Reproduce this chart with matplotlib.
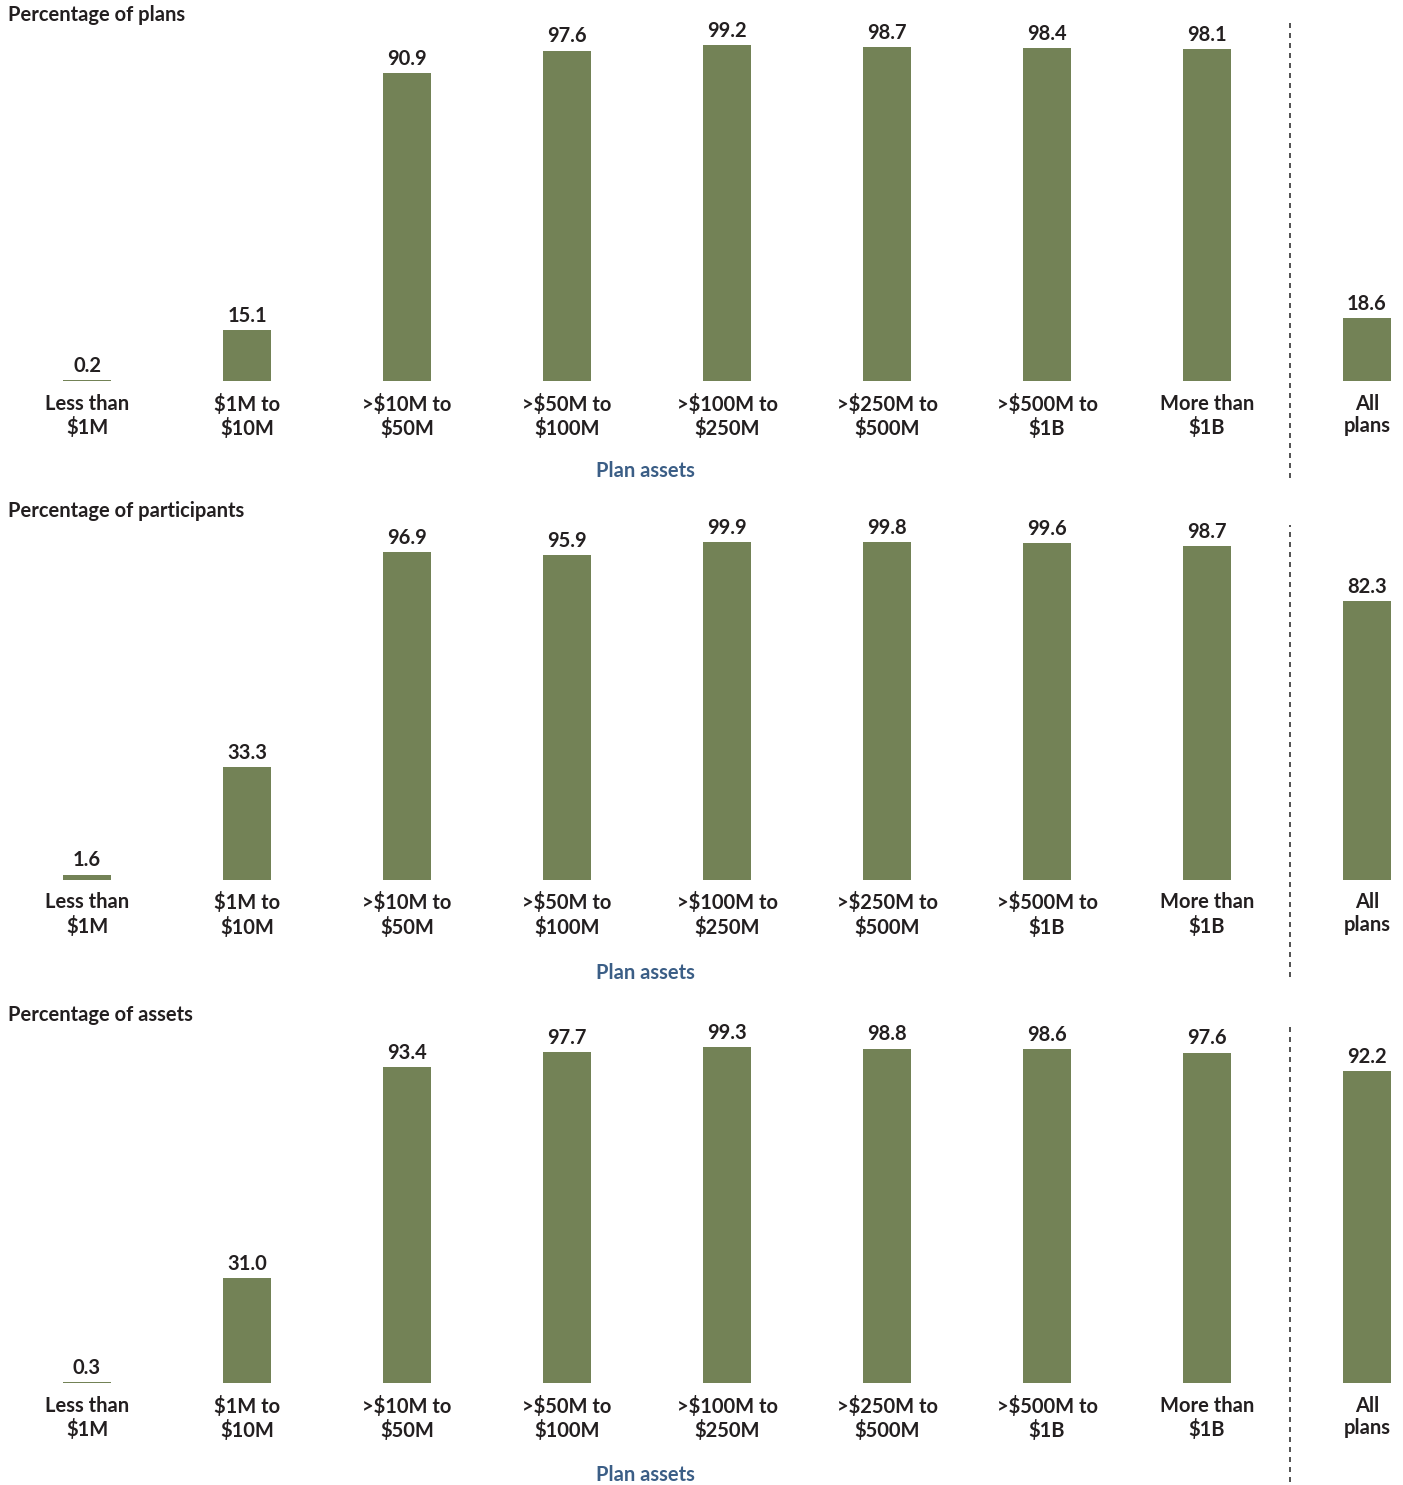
import matplotlib
matplotlib.use("Agg")
import matplotlib.pyplot as plt

plt.rcParams['font.family'] = ['Lato', 'DejaVu Sans']

categories = ["Less than\n$1M", "$1M to\n$10M", ">$10M to\n$50M", ">$50M to\n$100M",
              ">$100M to\n$250M", ">$250M to\n$500M", ">$500M to\n$1B", "More than\n$1B",
              "All\nplans"]
titles = ["Percentage of plans", "Percentage of participants", "Percentage of assets"]
pct_plans = [0.2, 15.1, 90.9, 97.6, 99.2, 98.7, 98.4, 98.1, 18.6]
pct_participants = [1.6, 33.3, 96.9, 95.9, 99.9, 99.8, 99.6, 98.7, 82.3]
pct_assets = [0.3, 31.0, 93.4, 97.7, 99.3, 98.8, 98.6, 97.6, 92.2]

BAR = '#738256'
TXT = '#231f20'
BLUE = '#3b5e86'

W, H = 1403, 1485
PX_PER_UNIT = 3.385
# (top of axes, baseline, bottom of axes) in pixels from top
panels = [(20, 381, 478), (525, 880, 977), (1022, 1383, 1482)]
title_y = [15, 511, 1015]
xlabel_y = [471, 973, 1475]

fig = plt.figure(figsize=(W / 100, H / 100), dpi=100)

for k, values in enumerate([pct_plans, pct_participants, pct_assets]):
    top, base, bot = panels[k]
    ax = fig.add_axes([0, 1 - bot / H, 1, (bot - top) / H])
    x = list(range(len(categories)))
    ax.bar(x, values, width=0.3, color=BAR)
    ax.set_xlim(-87 / 160, (W - 87) / 160)
    ax.set_ylim(-(bot - base) / PX_PER_UNIT, (base - top) / PX_PER_UNIT)
    ax.axvline(7.52, color='#333333', linestyle=(0, (3, 3)), linewidth=1.2)
    for xi, v, lab in zip(x, values, categories):
        ax.annotate(f"{v:.1f}", (xi, v), xytext=(0, 3), textcoords='offset points',
                    ha='center', va='bottom', fontsize=14.5, fontweight='bold', color=TXT)
        ax.annotate(lab, (xi, 0), xytext=(0, -9), textcoords='offset points',
                    ha='center', va='top', fontsize=14.5, fontweight='bold', color=TXT,
                    linespacing=1.18)
    ax.axis('off')
    fig.text(8 / W, 1 - title_y[k] / H, titles[k], ha='left', va='center',
             fontsize=14.5, fontweight='bold', color=TXT)
    fig.text(645 / W, 1 - xlabel_y[k] / H, "Plan assets", ha='center', va='center',
             fontsize=14.5, fontweight='bold', color=BLUE)

fig.savefig("out.png", dpi=100)
